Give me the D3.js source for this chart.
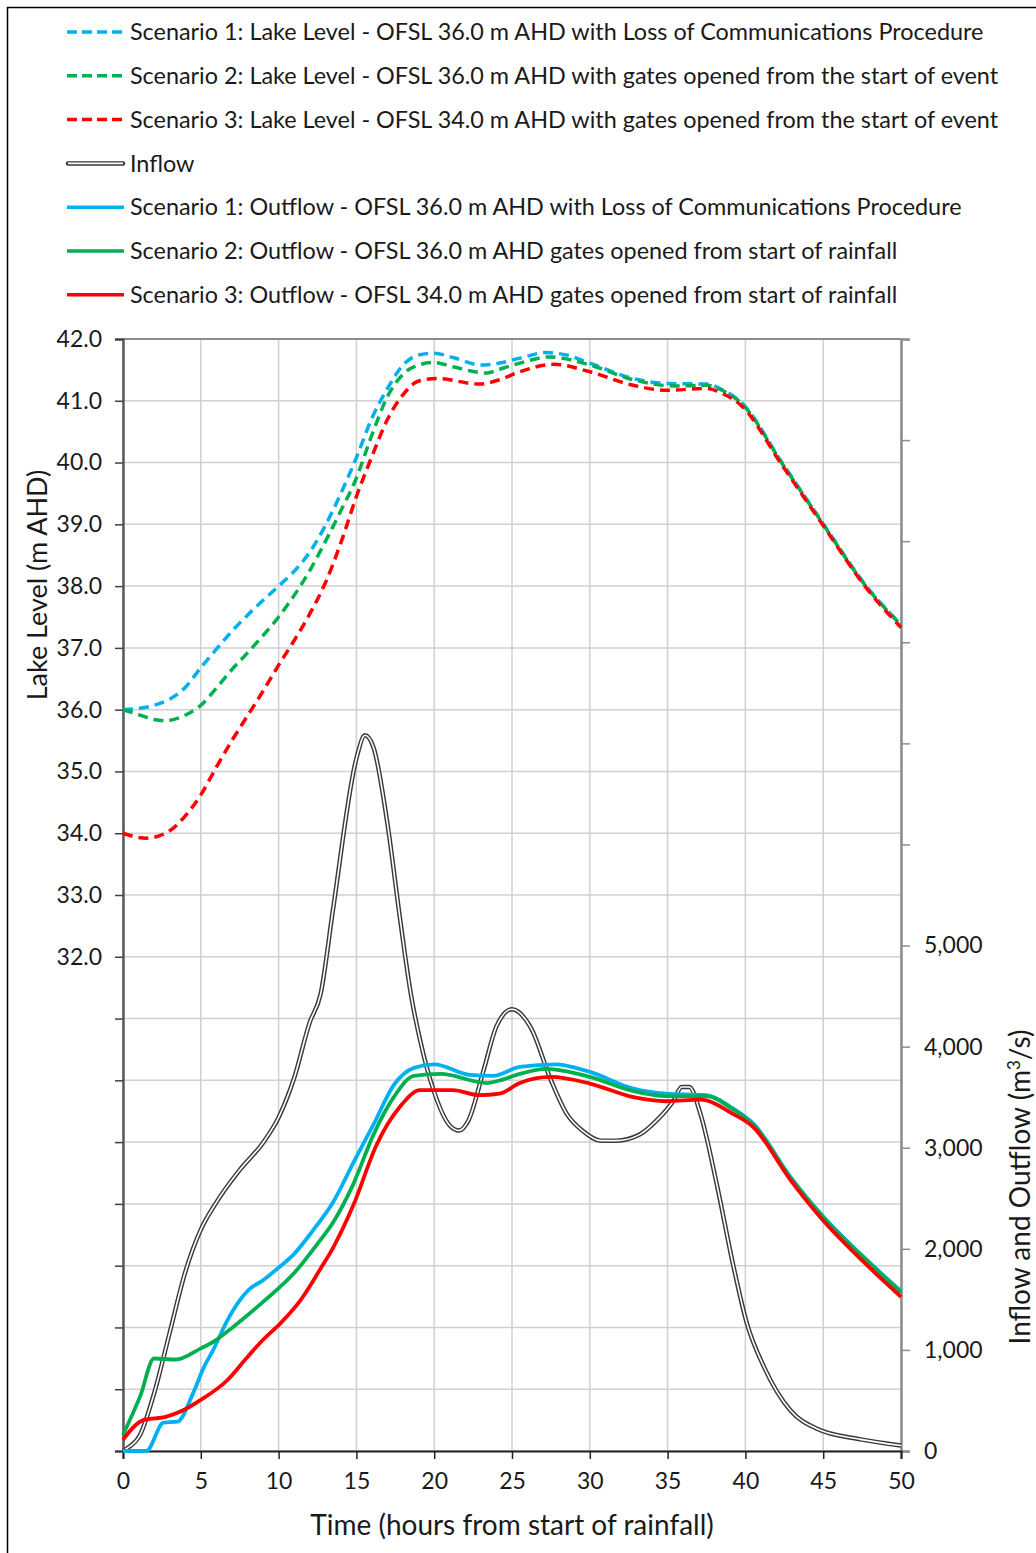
<!DOCTYPE html>
<html>
<head>
<meta charset="utf-8">
<script src="https://cdn.jsdelivr.net/npm/d3@7"></script>
<style>
  body { margin: 0; background: #fff; }
  svg { display: block; font-family: Lato, "Open Sans", sans-serif; }
</style>
</head>
<body>
<div id="chart-container"></div>
<script>
// lake levels (m AHD) - [hours, level]
const lakeS1 = [[0,36.0],[1,36.02],[2,36.07],[3,36.17],[4,36.36],[5,36.68],[6,36.98],[7,37.27],[8,37.53],[9,37.77],[10,38.0],[11,38.24],[12,38.55],[13,38.98],[14,39.5],[15,40.08],[16,40.72],[17,41.2],[18,41.58],[19,41.74],[20,41.77],[21.2,41.7],[23,41.58],[24.2,41.61],[25.5,41.69],[27.2,41.78],[28.5,41.74],[30,41.61],[32.8,41.36],[35,41.28],[37.5,41.27],[38.5,41.18],[39.7,40.98],[42.4,39.98],[45,39.01],[47.8,37.99],[50,37.38]];
const lakeS2 = [[0,36.0],[1,35.92],[2,35.84],[2.7,35.82],[3.5,35.86],[4.3,35.95],[5,36.07],[6,36.35],[7,36.65],[8,36.92],[9,37.2],[10,37.5],[11,37.85],[12,38.25],[13,38.72],[14,39.22],[15,39.75],[16,40.45],[17,41.07],[18,41.43],[19,41.58],[20,41.62],[21.2,41.55],[23.4,41.45],[24.2,41.51],[25.5,41.61],[27.4,41.71],[30,41.58],[32.8,41.34],[35.4,41.24],[37.5,41.25],[38.5,41.17],[39.7,40.97],[42.4,39.97],[45,39.0],[47.8,37.98],[50,37.37]];
const lakeS3 = [[0,34.0],[1.5,33.92],[3,34.04],[4.1,34.31],[5,34.62],[6,35.07],[7,35.5],[8,35.9],[9,36.3],[10,36.72],[11,37.12],[12,37.55],[13,38.05],[14,38.7],[15,39.45],[16,40.1],[17,40.7],[18,41.1],[19,41.32],[20.2,41.36],[22.9,41.27],[24.2,41.34],[25.5,41.47],[27.7,41.59],[30,41.47],[32.8,41.25],[34.9,41.17],[37.5,41.2],[38.5,41.12],[39.7,40.93],[42.4,39.94],[45,38.98],[47.8,37.96],[50,37.33]];

// flows (m3/s) - [hours, flow]
const inflow = [[0,0],[0.3,30],[1.1,160],[2,570],[3,1170],[4,1770],[5,2190],[6,2460],[7.5,2780],[9,3050],[10,3300],[11,3690],[12,4240],[12.7,4520],[13.5,5360],[15,6850],[15.55,7080],[16.1,6960],[17,6200],[17.8,5270],[18.5,4520],[19.1,4060],[20,3550],[21,3220],[21.6,3170],[22.2,3270],[23.2,3780],[24,4200],[25,4370],[26.2,4190],[27.5,3670],[28.5,3340],[29.6,3160],[30.7,3070],[31.7,3070],[33.2,3130],[34.3,3270],[35.4,3470],[35.9,3600],[36.4,3600],[37.1,3340],[38.2,2610],[39.2,1850],[40.1,1260],[41.2,830],[42.9,400],[44.6,220],[47.4,115],[50,55]];
const outS1 = [[0,0],[1.5,0],[2.6,280],[3.5,290],[4.5,570],[5.2,830],[5.8,1000],[6.7,1290],[7.5,1490],[8.05,1590],[9,1690],[9.9,1800],[11,1950],[12.2,2180],[13.5,2460],[14.8,2850],[16.1,3230],[17.4,3620],[18.7,3790],[20,3825],[22.3,3720],[23.8,3710],[25.5,3800],[27.8,3825],[30,3750],[32.8,3585],[34.9,3535],[37.5,3520],[39.2,3390],[40.5,3240],[42.9,2710],[45,2320],[47.6,1920],[50,1580]];
const outS2 = [[0,160],[1.1,540],[2,915],[3.4,905],[5,1015],[5.8,1080],[7.1,1230],[9,1475],[11,1760],[12.5,2050],[13.5,2260],[14.8,2640],[16.1,3130],[17.4,3500],[18.7,3710],[20.4,3730],[23.4,3640],[24.2,3665],[25.5,3730],[27.2,3780],[30,3700],[32.8,3560],[34.9,3510],[37.5,3510],[39.2,3380],[40.5,3230],[42.9,2700],[45,2310],[47.6,1910],[50,1570]];
const outS3 = [[0,110],[0.7,240],[1.3,305],[2.8,340],[3.9,405],[5,505],[6.7,700],[8,930],[9,1100],[10.1,1260],[11.4,1490],[12.7,1805],[13.5,2010],[14.8,2430],[16.3,3030],[17.8,3405],[19.1,3570],[21.2,3570],[22.9,3520],[24.2,3535],[25.5,3640],[27.5,3700],[30,3635],[32.8,3500],[34.9,3460],[37.1,3475],[39.2,3335],[40.5,3205],[42.9,2680],[45,2280],[47.6,1870],[50,1525]];

const legendNames = [
  "Scenario 1: Lake Level - OFSL 36.0 m AHD with Loss of Communications Procedure",
  "Scenario 2: Lake Level - OFSL 36.0 m AHD with gates opened from the start of event",
  "Scenario 3: Lake Level - OFSL 34.0 m AHD with gates opened from the start of event",
  "Inflow",
  "Scenario 1: Outflow - OFSL 36.0 m AHD with Loss of Communications Procedure",
  "Scenario 2: Outflow - OFSL 36.0 m AHD gates opened from start of rainfall",
  "Scenario 3: Outflow - OFSL 34.0 m AHD gates opened from start of rainfall"
];
const xTicks = [0,5,10,15,20,25,30,35,40,45,50];
const levelTicks = d3.range(24, 42.01, 1);
const flowTicks = d3.range(0, 11001, 1000);

const W = 1036, H = 1553;
const L = 123, R = 901, T = 339, B = 1451;
const blue = "#00b0f0", green = "#00b050", red = "#ff0000";

const svg = d3.select("#chart-container").append("svg")
    .attr("width", W).attr("height", H);

svg.append("rect").attr("x", 7.5).attr("y", 7.5).attr("width", W + 20).attr("height", H + 20)
    .attr("fill", "#fff").attr("stroke", "#000").attr("stroke-width", 1.5);

const x = d3.scaleLinear().domain([0, 50]).range([L, R]);
const yL = d3.scaleLinear().domain([24, 42]).range([B, T]);
const yR = d3.scaleLinear().domain([0, 11000]).range([B, T]);

// grid
svg.append("g").selectAll("line").data(levelTicks).enter().append("line")
    .attr("x1", L).attr("x2", R).attr("y1", d => yL(d)).attr("y2", d => yL(d))
    .attr("stroke", "#d0d0d0").attr("stroke-width", 1.5);
svg.append("g").selectAll("line").data(xTicks).enter().append("line")
    .attr("x1", d => x(d)).attr("x2", d => x(d)).attr("y1", T).attr("y2", B)
    .attr("stroke", "#d0d0d0").attr("stroke-width", 1.5);
svg.append("line").attr("x1", L).attr("x2", R).attr("y1", T).attr("y2", T)
    .attr("stroke", "#8c8c8c").attr("stroke-width", 2);

// axes
const leftAxis = svg.append("g").attr("transform", `translate(${L},0)`)
    .call(d3.axisLeft(yL).tickValues(levelTicks).tickSize(8).tickPadding(13)
        .tickFormat(d => d >= 32 ? d3.format(".1f")(d) : ""));
leftAxis.select(".domain").attr("stroke", "#595959").attr("stroke-width", 2.5);
leftAxis.selectAll(".tick line").attr("stroke", "#404040").attr("stroke-width", 1.5);

const rightAxis = svg.append("g").attr("transform", `translate(${R},0)`)
    .call(d3.axisRight(yR).tickValues(flowTicks).tickSize(9).tickPadding(14)
        .tickFormat(d => d <= 5000 ? d3.format(",")(d) : ""));
rightAxis.select(".domain").attr("stroke", "#8c8c8c").attr("stroke-width", 2.5);
rightAxis.selectAll(".tick line").attr("stroke", "#8c8c8c").attr("stroke-width", 1.5);

const bottomAxis = svg.append("g").attr("transform", `translate(0,${B})`)
    .call(d3.axisBottom(x).tickValues(xTicks).tickSize(8).tickPadding(14));
bottomAxis.select(".domain").attr("stroke", "#222").attr("stroke-width", 2);
bottomAxis.selectAll(".tick line").attr("stroke", "#222").attr("stroke-width", 1.5);

svg.selectAll(".tick text").attr("font-family", "Lato, 'Open Sans', sans-serif")
    .attr("font-size", 23).attr("fill", "#1a1a1a");

// titles
svg.append("text").attr("x", (L + R) / 2).attr("y", 1535).attr("text-anchor", "middle")
    .attr("font-size", 28).attr("fill", "#1a1a1a").text("Time (hours from start of rainfall)");
svg.append("text").attr("transform", "translate(47,585) rotate(-90)").attr("text-anchor", "middle")
    .attr("font-size", 27).attr("fill", "#1a1a1a").text("Lake Level (m AHD)");
const rt = svg.append("text").attr("transform", "translate(1030,1187) rotate(-90)").attr("text-anchor", "middle")
    .attr("font-size", 28).attr("fill", "#1a1a1a");
rt.append("tspan").text("Inflow and Outflow (m");
rt.append("tspan").attr("font-size", 17).attr("dy", -10).text("3");
rt.append("tspan").attr("dy", 10).text("/s)");

// series
const lineL = d3.line().x(d => x(d[0])).y(d => yL(d[1])).curve(d3.curveMonotoneX);
const lineR = d3.line().x(d => x(d[0])).y(d => yR(d[1])).curve(d3.curveMonotoneX);

const dashed = [[lakeS1, blue], [lakeS2, green], [lakeS3, red]];
dashed.forEach(([data, c]) => {
  svg.append("path").datum(data).attr("d", lineL).attr("fill", "none")
      .attr("stroke", c).attr("stroke-width", 3.5).attr("stroke-dasharray", "10,6");
});

svg.append("path").datum(inflow).attr("d", lineR).attr("fill", "none")
    .attr("stroke", "#3a3a3a").attr("stroke-width", 4.5).attr("stroke-linejoin", "round");
svg.append("path").datum(inflow).attr("d", lineR).attr("fill", "none")
    .attr("stroke", "#fff").attr("stroke-width", 1.6).attr("stroke-linejoin", "round");

[[outS1, blue], [outS2, green], [outS3, red]].forEach(([data, c]) => {
  svg.append("path").datum(data).attr("d", lineR).attr("fill", "none")
      .attr("stroke", c).attr("stroke-width", 3.8).attr("stroke-linejoin", "round");
});

// legend
const legendStyle = [
  { c: blue, dash: "10,5" }, { c: green, dash: "10,5" }, { c: red, dash: "10,5" },
  { c: "inflow" }, { c: blue }, { c: green }, { c: red }
];
const lg = svg.append("g");
legendNames.forEach((name, i) => {
  const yy = 32 + i * 43.8;
  const st = legendStyle[i];
  if (st.c === "inflow") {
    lg.append("line").attr("x1", 68).attr("x2", 123).attr("y1", yy).attr("y2", yy)
        .attr("stroke", "#3a3a3a").attr("stroke-width", 4.5).attr("stroke-linecap", "round");
    lg.append("line").attr("x1", 68).attr("x2", 123).attr("y1", yy).attr("y2", yy)
        .attr("stroke", "#fff").attr("stroke-width", 1.6);
  } else {
    lg.append("line").attr("x1", 67).attr("x2", 124).attr("y1", yy).attr("y2", yy)
        .attr("stroke", st.c).attr("stroke-width", 3.5)
        .attr("stroke-dasharray", st.dash || null);
  }
  lg.append("text").attr("x", 130).attr("y", yy).attr("dy", "0.35em")
      .attr("font-size", 23.4).attr("fill", "#1a1a1a").text(name);
});
</script>
</body>
</html>
